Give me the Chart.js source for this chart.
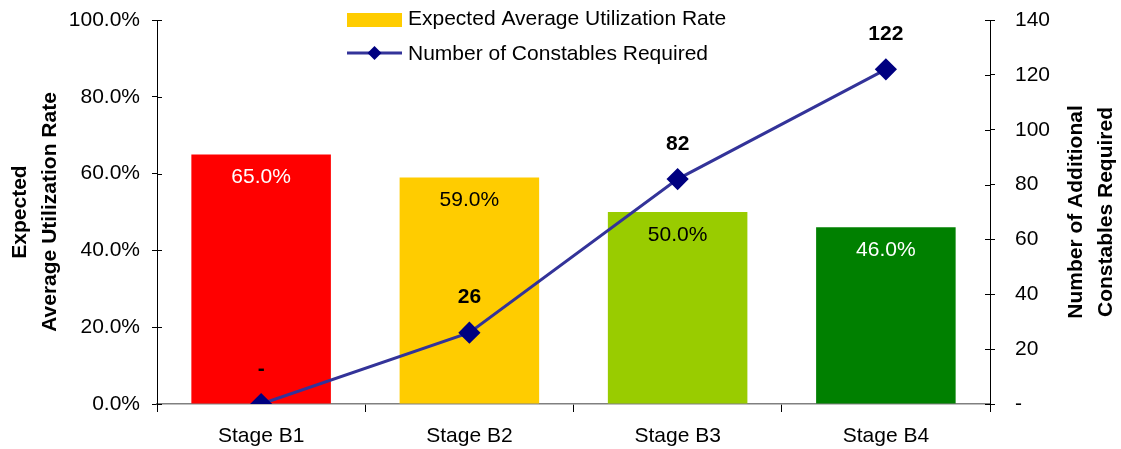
<!DOCTYPE html>
<html>
<head>
<meta charset="utf-8">
<script src="https://cdn.jsdelivr.net/npm/chart.js@4"></script>
<style>
  html, body { margin: 0; padding: 0; background: #fff; }
  #wrap { width: 1121px; height: 449px; position: relative; }
</style>
</head>
<body>
<div id="wrap"><canvas id="chart"></canvas></div>
<script>
const stages = ['Stage B1', 'Stage B2', 'Stage B3', 'Stage B4'];
const utilization = [65.0, 59.0, 50.0, 46.0];
const constables = [0, 26, 82, 122];
const barColors = ['#FF0000', '#FFCC00', '#99CC00', '#008000'];
const barLabelColors = ['#FFFFFF', '#000000', '#000000', '#FFFFFF'];

const FONT = '"Liberation Sans", Arial, sans-serif';
const SIZE = 21;
Chart.defaults.font.family = FONT;
Chart.defaults.color = '#000';

// value labels, legend, axis titles and inner tick marks
const decorations = {
  id: 'decorations',
  afterDatasetsDraw(chart) {
    const ctx = chart.ctx;
    const area = chart.chartArea;
    ctx.save();

    // inner half of y-axis ticks
    ctx.strokeStyle = '#000';
    ctx.lineWidth = 1;
    [['y', area.left, 5], ['y1', area.right, -5]].forEach(([id, x, d]) => {
      const sc = chart.scales[id];
      sc.ticks.forEach(t => {
        const py = Math.round(sc.getPixelForValue(t.value)) + 0.5;
        ctx.beginPath();
        ctx.moveTo(x, py);
        ctx.lineTo(x + d, py);
        ctx.stroke();
      });
    });

    ctx.textAlign = 'center';
    ctx.textBaseline = 'middle';

    const bars = chart.getDatasetMeta(1).data;
    ctx.font = SIZE + 'px ' + FONT;
    bars.forEach((bar, i) => {
      ctx.fillStyle = barLabelColors[i];
      ctx.fillText(utilization[i].toFixed(1) + '%', bar.x, bar.y + 23);
    });

    const pts = chart.getDatasetMeta(0).data;
    ctx.font = 'bold ' + SIZE + 'px ' + FONT;
    ctx.fillStyle = '#000';
    pts.forEach((p, i) => {
      ctx.fillText(constables[i] === 0 ? '-' : String(constables[i]), p.x, p.y - 35);
    });

    // legend
    ctx.textAlign = 'left';
    ctx.font = SIZE + 'px ' + FONT;
    ctx.fillStyle = '#FFCC00';
    ctx.fillRect(347, 13, 55, 14);
    ctx.fillStyle = '#000';
    ctx.fillText('Expected Average Utilization Rate', 408, 19);
    ctx.strokeStyle = '#333399';
    ctx.lineWidth = 3;
    ctx.beginPath();
    ctx.moveTo(347, 53);
    ctx.lineTo(402, 53);
    ctx.stroke();
    ctx.fillStyle = '#000080';
    ctx.beginPath();
    ctx.moveTo(374.5, 46);
    ctx.lineTo(381.5, 53);
    ctx.lineTo(374.5, 60);
    ctx.lineTo(367.5, 53);
    ctx.closePath();
    ctx.fill();
    ctx.fillStyle = '#000';
    ctx.fillText('Number of Constables Required', 408, 54);

    // axis titles
    ctx.font = 'bold ' + SIZE + 'px ' + FONT;
    ctx.textAlign = 'center';
    const midY = (area.top + area.bottom) / 2;
    ctx.save();
    ctx.translate(20, midY);
    ctx.rotate(-Math.PI / 2);
    ctx.fillText('Expected', 0, 0);
    ctx.fillText('Average Utilization Rate', 0, 30);
    ctx.restore();
    ctx.save();
    ctx.translate(1076, midY);
    ctx.rotate(-Math.PI / 2);
    ctx.fillText('Number of Additional', 0, 0);
    ctx.fillText('Constables Required', 0, 30);
    ctx.restore();

    ctx.restore();
  }
};

new Chart(document.getElementById('chart'), {
  data: {
    labels: stages,
    datasets: [
      {
        type: 'line',
        label: 'Number of Constables Required',
        data: constables,
        yAxisID: 'y1',
        borderColor: '#333399',
        borderWidth: 3,
        pointStyle: 'rectRot',
        pointRadius: 9,
        pointHoverRadius: 9,
        pointBackgroundColor: '#000080',
        pointBorderColor: '#000080',
        tension: 0,
        order: 0
      },
      {
        type: 'bar',
        label: 'Expected Average Utilization Rate',
        data: utilization,
        yAxisID: 'y',
        backgroundColor: barColors,
        categoryPercentage: 0.67,
        barPercentage: 1.0,
        order: 1
      }
    ]
  },
  options: {
    responsive: true,
    maintainAspectRatio: false,
    animation: false,
    layout: { padding: { top: 20, left: 0, right: 0, bottom: 0 } },
    plugins: { legend: { display: false }, tooltip: { enabled: false } },
    scales: {
      x: {
        grid: { display: true, drawOnChartArea: false, tickLength: 8, color: '#000', offset: true },
        border: { color: '#808080', width: 1.5 },
        ticks: { font: { size: SIZE }, padding: 12, color: '#000' },
        afterFit(s) { s.height = 45; s.paddingLeft = 0; s.paddingRight = 0; }
      },
      y: {
        position: 'left',
        min: 0, max: 100,
        ticks: { stepSize: 20, font: { size: SIZE }, padding: 12, color: '#000',
          callback: v => v.toFixed(1) + '%' },
        grid: { drawOnChartArea: false, tickLength: 5, color: '#000' },
        border: { color: '#000', width: 1 },
        afterFit(s) { s.width = 157; s.paddingTop = 0; s.paddingBottom = 0; }
      },
      y1: {
        position: 'right',
        min: 0, max: 140,
        ticks: { stepSize: 20, font: { size: SIZE }, padding: 20, color: '#000',
          callback: v => v === 0 ? '-' : String(v) },
        grid: { drawOnChartArea: false, tickLength: 5, color: '#000' },
        border: { color: '#000', width: 1 },
        afterFit(s) { s.width = 131; s.paddingTop = 0; s.paddingBottom = 0; }
      }
    }
  },
  plugins: [decorations]
});
</script>
</body>
</html>
